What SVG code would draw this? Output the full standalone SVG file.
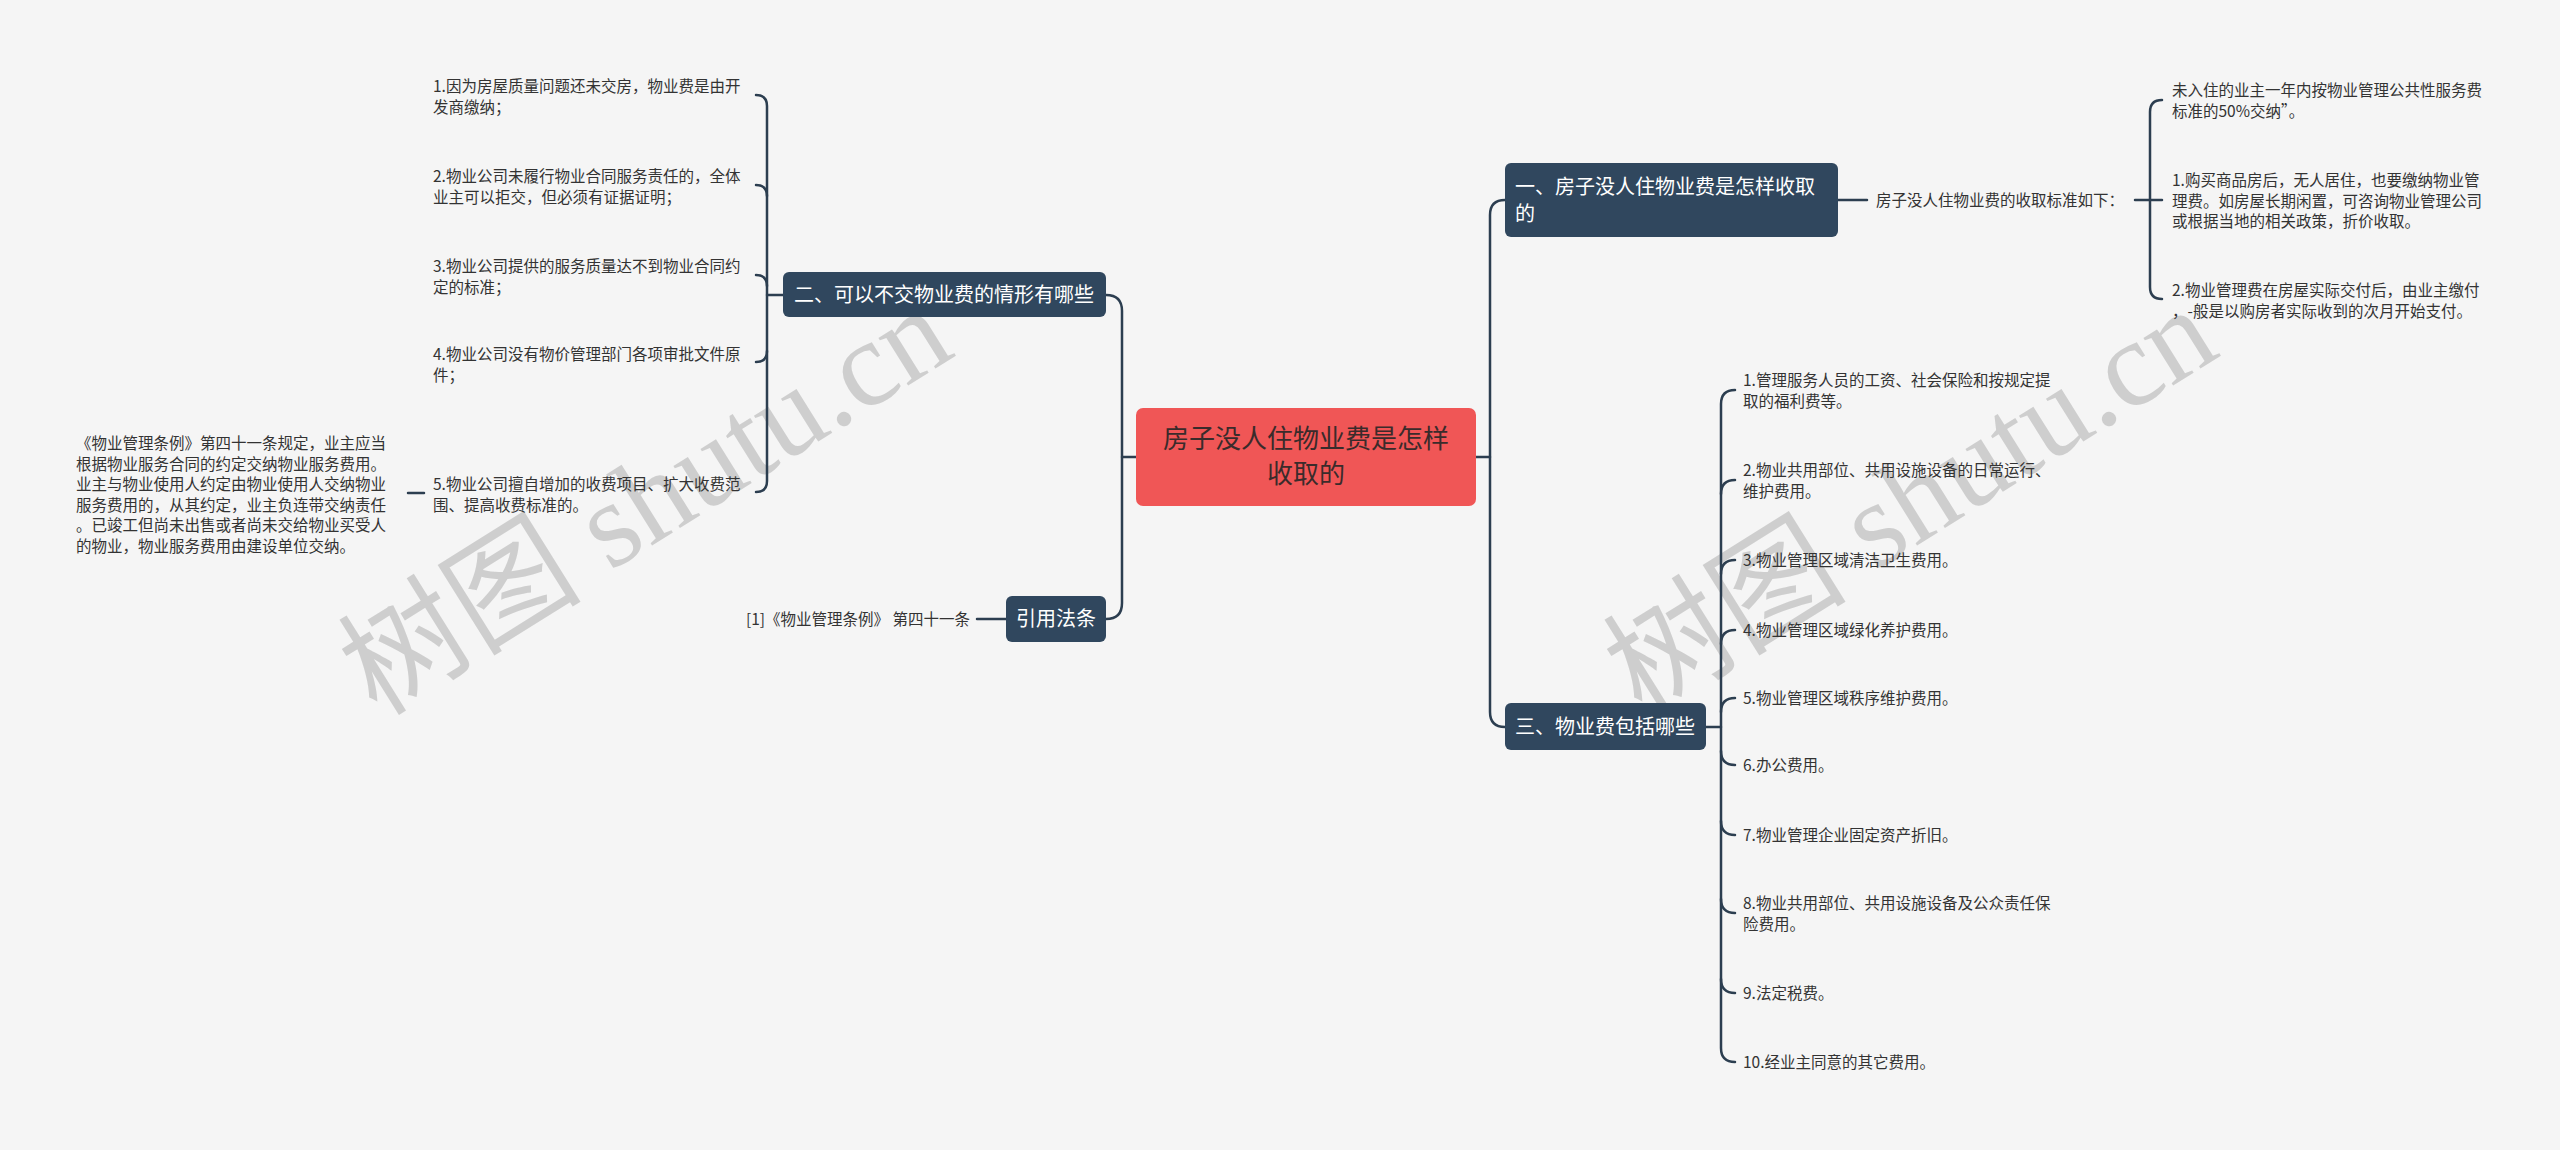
<svg xmlns="http://www.w3.org/2000/svg" width="2560" height="1150" viewBox="0 0 2560 1150">
<style>
.bg{fill:#f5f5f5}
.conn{fill:none;stroke:#2c3e50;stroke-width:2.5;stroke-linecap:round}
.node{fill:#30475e}
.nt{font-family:"Noto Sans CJK SC","Noto Sans",sans-serif;font-size:20px;fill:#ffffff}
.leaf{font-family:"Noto Sans CJK SC","Noto Sans",sans-serif;font-size:15.5px;fill:#333333}
.root{fill:#f05656}
.rt{font-family:"Noto Sans CJK SC","Noto Sans",sans-serif;font-size:26px;fill:#3a2b2b;text-anchor:middle}
.wm{font-family:"Liberation Serif","Noto Sans CJK SC",serif;font-size:122px;fill:#8a8a8a;fill-opacity:0.36;text-anchor:middle}
</style>
<rect class="bg" x="0" y="0" width="2560" height="1150"/>
<g id="watermarks">
<text class="wm" transform="translate(646,502) rotate(-32)" x="0" y="40">树图 shutu.cn</text>
<text class="wm" transform="translate(1911,502) rotate(-32)" x="0" y="40">树图 shutu.cn</text>
</g>
<g id="connectors">
<path class="conn" d="M1122,457 H1490"/>
<path class="conn" d="M1106,295 Q1122,295 1122,311 V603 Q1122,619 1106,619"/>
<path class="conn" d="M1505,200 Q1490,200 1490,215 V712 Q1490,727 1505,727"/>
<path class="conn" d="M1838,200 H1867"/>
<path class="conn" d="M2135,200 H2162"/>
<path class="conn" d="M2162,100 Q2150,100 2150,112 V287 Q2150,299 2162,299"/>
<path class="conn" d="M783,295 H767"/>
<path class="conn" d="M756,95 Q767,95 767,106 V481 Q767,492 756,492"/>
<path class="conn" d="M756,185 Q767,185 767,196"/>
<path class="conn" d="M756,275 Q767,275 767,286"/>
<path class="conn" d="M756,362 Q767,362 767,351"/>
<path class="conn" d="M408,493 H424"/>
<path class="conn" d="M977,619 H1006"/>
<path class="conn" d="M1706,727 H1721"/>
<path class="conn" d="M1735,390 Q1721,390 1721,404 V1048 Q1721,1062 1735,1062"/>
<path class="conn" d="M1735,480 Q1721,480 1721,494"/>
<path class="conn" d="M1735,560 Q1721,560 1721,574"/>
<path class="conn" d="M1735,630 Q1721,630 1721,644"/>
<path class="conn" d="M1735,698 Q1721,698 1721,712"/>
<path class="conn" d="M1735,765 Q1721,765 1721,751"/>
<path class="conn" d="M1735,835 Q1721,835 1721,821"/>
<path class="conn" d="M1735,913 Q1721,913 1721,899"/>
<path class="conn" d="M1735,993 Q1721,993 1721,979"/>
</g>
<g id="root">
<rect class="root" x="1136" y="408" width="340" height="98" rx="7"/>
<text class="rt" x="1306" y="448">房子没人住物业费是怎样</text>
<text class="rt" x="1306" y="483">收取的</text>
</g>
<g id="n1">
<rect class="node" x="1505" y="163" width="333" height="74" rx="6"/>
<text class="nt" x="1515" y="194">一、房子没人住物业费是怎样收取</text>
<text class="nt" x="1515" y="221">的</text>
</g>
<g id="n1-std"><text class="leaf" x="1876" y="206">房子没人住物业费的收取标准如下：</text></g>
<g id="n1-a">
<text class="leaf" x="2172" y="96">未入住的业主一年内按物业管理公共性服务费</text>
<text class="leaf" x="2172" y="116.5">标准的50%交纳”。</text>
</g>
<g id="n1-b">
<text class="leaf" x="2172" y="186">1.购买商品房后，无人居住，也要缴纳物业管</text>
<text class="leaf" x="2172" y="206.5">理费。如房屋长期闲置，可咨询物业管理公司</text>
<text class="leaf" x="2172" y="227">或根据当地的相关政策，折价收取。</text>
</g>
<g id="n1-c">
<text class="leaf" x="2172" y="296">2.物业管理费在房屋实际交付后，由业主缴付</text>
<text class="leaf" x="2172" y="316.5">，-般是以购房者实际收到的次月开始支付。</text>
</g>
<g id="n2">
<rect class="node" x="783" y="272" width="323" height="45" rx="6"/>
<text class="nt" x="794" y="301.5">二、可以不交物业费的情形有哪些</text>
</g>
<g id="n2-1">
<text class="leaf" x="433" y="92">1.因为房屋质量问题还未交房，物业费是由开</text>
<text class="leaf" x="433" y="112.5">发商缴纳；</text>
</g>
<g id="n2-2">
<text class="leaf" x="433" y="182">2.物业公司未履行物业合同服务责任的，全体</text>
<text class="leaf" x="433" y="202.5">业主可以拒交，但必须有证据证明；</text>
</g>
<g id="n2-3">
<text class="leaf" x="433" y="272">3.物业公司提供的服务质量达不到物业合同约</text>
<text class="leaf" x="433" y="292.5">定的标准；</text>
</g>
<g id="n2-4">
<text class="leaf" x="433" y="360">4.物业公司没有物价管理部门各项审批文件原</text>
<text class="leaf" x="433" y="380.5">件；</text>
</g>
<g id="n2-5">
<text class="leaf" x="433" y="490">5.物业公司擅自增加的收费项目、扩大收费范</text>
<text class="leaf" x="433" y="510.5">围、提高收费标准的。</text>
</g>
<g id="n2-5-law">
<text class="leaf" x="76" y="449">《物业管理条例》第四十一条规定，业主应当</text>
<text class="leaf" x="76" y="469.5">根据物业服务合同的约定交纳物业服务费用。</text>
<text class="leaf" x="76" y="490">业主与物业使用人约定由物业使用人交纳物业</text>
<text class="leaf" x="76" y="510.5">服务费用的，从其约定，业主负连带交纳责任</text>
<text class="leaf" x="76" y="531">。已竣工但尚未出售或者尚未交给物业买受人</text>
<text class="leaf" x="76" y="551.5">的物业，物业服务费用由建设单位交纳。</text>
</g>
<g id="n-law">
<rect class="node" x="1006" y="596" width="100" height="46" rx="6"/>
<text class="nt" x="1056" y="626" text-anchor="middle">引用法条</text>
</g>
<g id="n-law-ref"><text class="leaf" x="970" y="625" text-anchor="end">[1]《物业管理条例》 第四十一条</text></g>
<g id="n3">
<rect class="node" x="1505" y="703" width="201" height="47" rx="6"/>
<text class="nt" x="1515" y="733.5">三、物业费包括哪些</text>
</g>
<g id="n3-items">
<text class="leaf" x="1743" y="386">1.管理服务人员的工资、社会保险和按规定提</text>
<text class="leaf" x="1743" y="406.5">取的福利费等。</text>
<text class="leaf" x="1743" y="476">2.物业共用部位、共用设施设备的日常运行、</text>
<text class="leaf" x="1743" y="496.5">维护费用。</text>
<text class="leaf" x="1743" y="566">3.物业管理区域清洁卫生费用。</text>
<text class="leaf" x="1743" y="636">4.物业管理区域绿化养护费用。</text>
<text class="leaf" x="1743" y="704">5.物业管理区域秩序维护费用。</text>
<text class="leaf" x="1743" y="771">6.办公费用。</text>
<text class="leaf" x="1743" y="841">7.物业管理企业固定资产折旧。</text>
<text class="leaf" x="1743" y="909">8.物业共用部位、共用设施设备及公众责任保</text>
<text class="leaf" x="1743" y="929.5">险费用。</text>
<text class="leaf" x="1743" y="999">9.法定税费。</text>
<text class="leaf" x="1743" y="1068">10.经业主同意的其它费用。</text>
</g>
</svg>
